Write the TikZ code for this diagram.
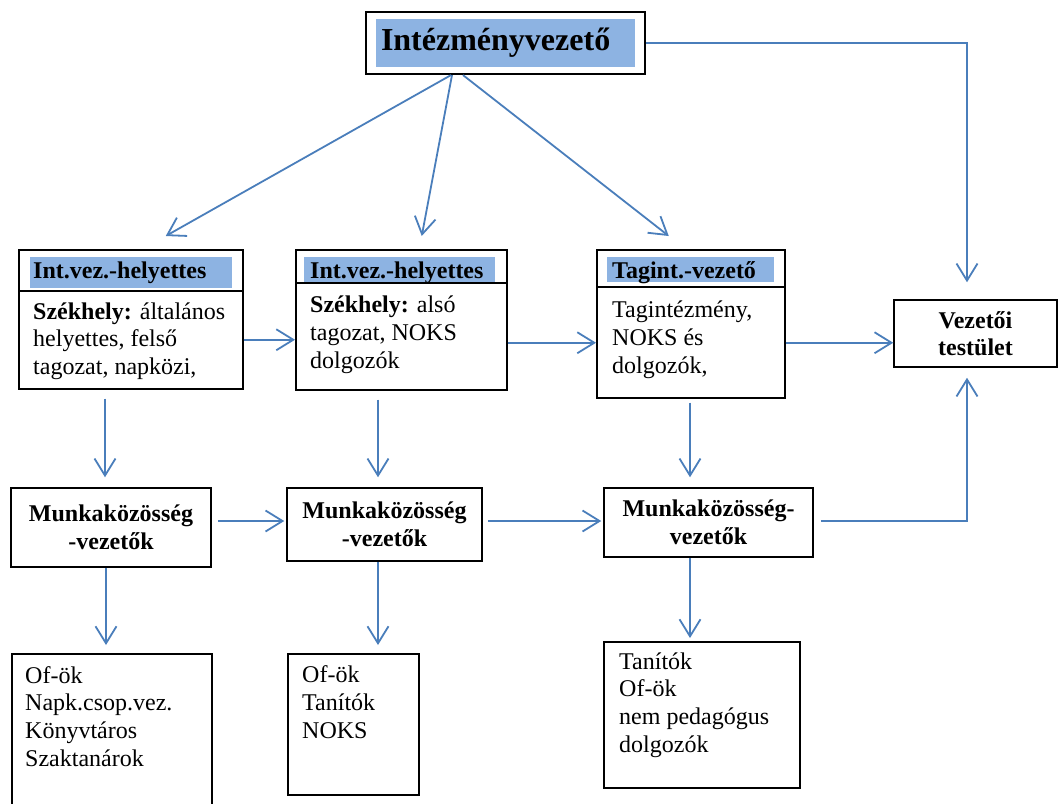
\documentclass[tikz,border=0pt]{standalone}
\usepackage{fontspec}
\setmainfont{Liberation Serif}
\usepackage{tikz}
\usetikzlibrary{arrows.meta}

\definecolor{linkek}{RGB}{74,126,187}
\definecolor{fejkek}{RGB}{141,179,226}
\newcommand{\nagy}{\fontsize{24}{27.6}\selectfont}
\newcommand{\cim}{\fontsize{32}{36.8}\selectfont\bfseries}

\begin{document}
\begin{tikzpicture}[x=1pt,y=-1pt,>={Straight Barb[length=17pt,width=21pt]},
                    every node/.style={inner sep=0pt},
                    doboz/.style={draw,line width=1.5pt,anchor=north west},
                    fej/.style={fill=fejkek,font=\nagy\bfseries,inner xsep=3pt,
                                anchor=base west,align=left,text height=21pt},
                    szoveg/.style={font=\nagy,anchor=base west,align=left},
                    vastag/.style={draw,line width=1.5pt,font=\nagy\bfseries,align=center},
                    nyil/.style={->,color=linkek,line width=1.8pt}]
  \useasboundingbox (0,0) rectangle (1059,803);

  % top
  \node[draw,line width=2.2pt,minimum width=279pt,minimum height=62pt] (top) at (505.5,43) {};
  \node[fill=fejkek,font=\cim,minimum height=48pt,text width=249pt,inner xsep=5pt,
        align=left] (topt) at (505.5,43) {Intézményvezető};

  % helyettesek (base = last line)
  \node[doboz,minimum width=224pt,minimum height=139pt] (h1) at (18,249) {};
  \node[fej,text width=196pt,text depth=10pt] (h1t) at (30,278) {Int.vez.-helyettes};
  \draw[line width=1.5pt] (h1.west |- 0,291) -- (h1.east |- 0,291);
  \node[szoveg] (h1b) at (33,374.5) {\textbf{Székhely:} általános\\helyettes, felső\\tagozat, napközi,};

  \node[doboz,minimum width=211pt,minimum height=140pt] (h2) at (295,249) {};
  \node[fej,inner xsep=6pt,text width=179pt,text depth=5pt] (h2t) at (304,278) {Int.vez.-helyettes};
  \draw[line width=1.5pt] (h2.west |- 0,283) -- (h2.east |- 0,283);
  \node[szoveg] (h2b) at (310,368) {\textbf{Székhely:} alsó\\tagozat, NOKS\\dolgozók};

  \node[doboz,minimum width=188pt,minimum height=148pt] (h3) at (596,249) {};
  \node[fej,inner xsep=5pt,text width=157pt,text depth=4pt] (h3t) at (607,278) {Tagint.-vezető};
  \draw[line width=1.5pt] (h3.west |- 0,287) -- (h3.east |- 0,287);
  \node[szoveg] (h3b) at (612,373) {Tagintézmény,\\NOKS és\\dolgozók,};

  \node[vastag,minimum width=163pt,minimum height=67pt] (vt) at (975.5,333.5) {Vezetői\\testület};

  % munkakozossegek
  \node[vastag,minimum width=200pt,minimum height=79pt] (mk1) at (111,527.5) {Munkaközösség\\-vezetők};
  \node[vastag,minimum width=195pt,minimum height=73pt] (mk2) at (384.5,524.5) {Munkaközösség\\-vezetők};
  \node[vastag,minimum width=209pt,minimum height=69pt] (mk3) at (708.5,522.5) {Munkaközösség-\\vezetők};

  % also dobozok
  \node[doboz,minimum width=200pt,minimum height=155pt] (of1) at (11,653) {};
  \node[szoveg] (of1t) at (25,766) {Of-ök\\Napk.csop.vez.\\Könyvtáros\\Szaktanárok};
  \node[doboz,minimum width=131pt,minimum height=141pt] (of2) at (287,653) {};
  \node[szoveg] (of2t) at (302,738) {Of-ök\\Tanítók\\NOKS};
  \node[doboz,minimum width=196pt,minimum height=146pt] (of3) at (603,641) {};
  \node[szoveg] (of3t) at (619,752) {Tanítók\\Of-ök\\nem pedagógus\\dolgozók};

  \path[nyil]
    ([xshift=-54.5pt]top.south) edge ([xshift=35pt,yshift=13pt]h1.north)
    ([xshift=-53.5pt]top.south) edge ([xshift=20.5pt,yshift=13pt]h2.north)
    ([xshift=-42.5pt]top.south) edge ([xshift=-22pt,yshift=13pt]h3.north)
    ([yshift=-20.5pt]h1.east) edge ([yshift=-20.5pt]h1.east -| h2.west)
    ([yshift=-23pt]h2.east) edge ([yshift=-23pt]h2.east -| h3.west)
    ([yshift=-19pt]h3.east) edge ([yshift=-19pt]h3.east -| vt.west)
    ([xshift=-6pt]mk1.north |- h1.south) edge[shorten <=9pt,shorten >=10pt] ([xshift=-6pt]mk1.north)
    ([xshift=-6.5pt]mk2.north |- h2.south) edge[shorten <=9pt,shorten >=10pt] ([xshift=-6.5pt]mk2.north)
    ([xshift=-18.5pt]mk3.north |- h3.south) edge[shorten <=4pt,shorten >=10pt] ([xshift=-18.5pt]mk3.north)
    ([yshift=6.5pt]mk1.east) edge[shorten <=6pt,shorten >=2pt] ([yshift=6.5pt]mk1.east -| mk2.west)
    ([yshift=3.5pt]mk2.east) edge[shorten <=5pt,shorten >=2pt] ([yshift=3.5pt]mk2.east -| mk3.west)
    ([xshift=-5pt]mk1.south) edge[shorten >=8pt] ([xshift=-5pt]mk1.south |- of1.north)
    ([xshift=-6.5pt]mk2.south) edge[shorten >=8pt] ([xshift=-6.5pt]mk2.south |- of2.north)
    ([xshift=-18.5pt]mk3.south) edge[shorten >=3pt] ([xshift=-18.5pt]mk3.south |- of3.north);

  \draw[nyil,shorten >=17pt] (top.east) -| ([xshift=-8.5pt]vt.north);
  \draw[nyil,shorten <=7pt,shorten >=10pt] ([yshift=1.5pt]mk3.east) -| ([xshift=-8.5pt]vt.south);
\end{tikzpicture}
\end{document}
